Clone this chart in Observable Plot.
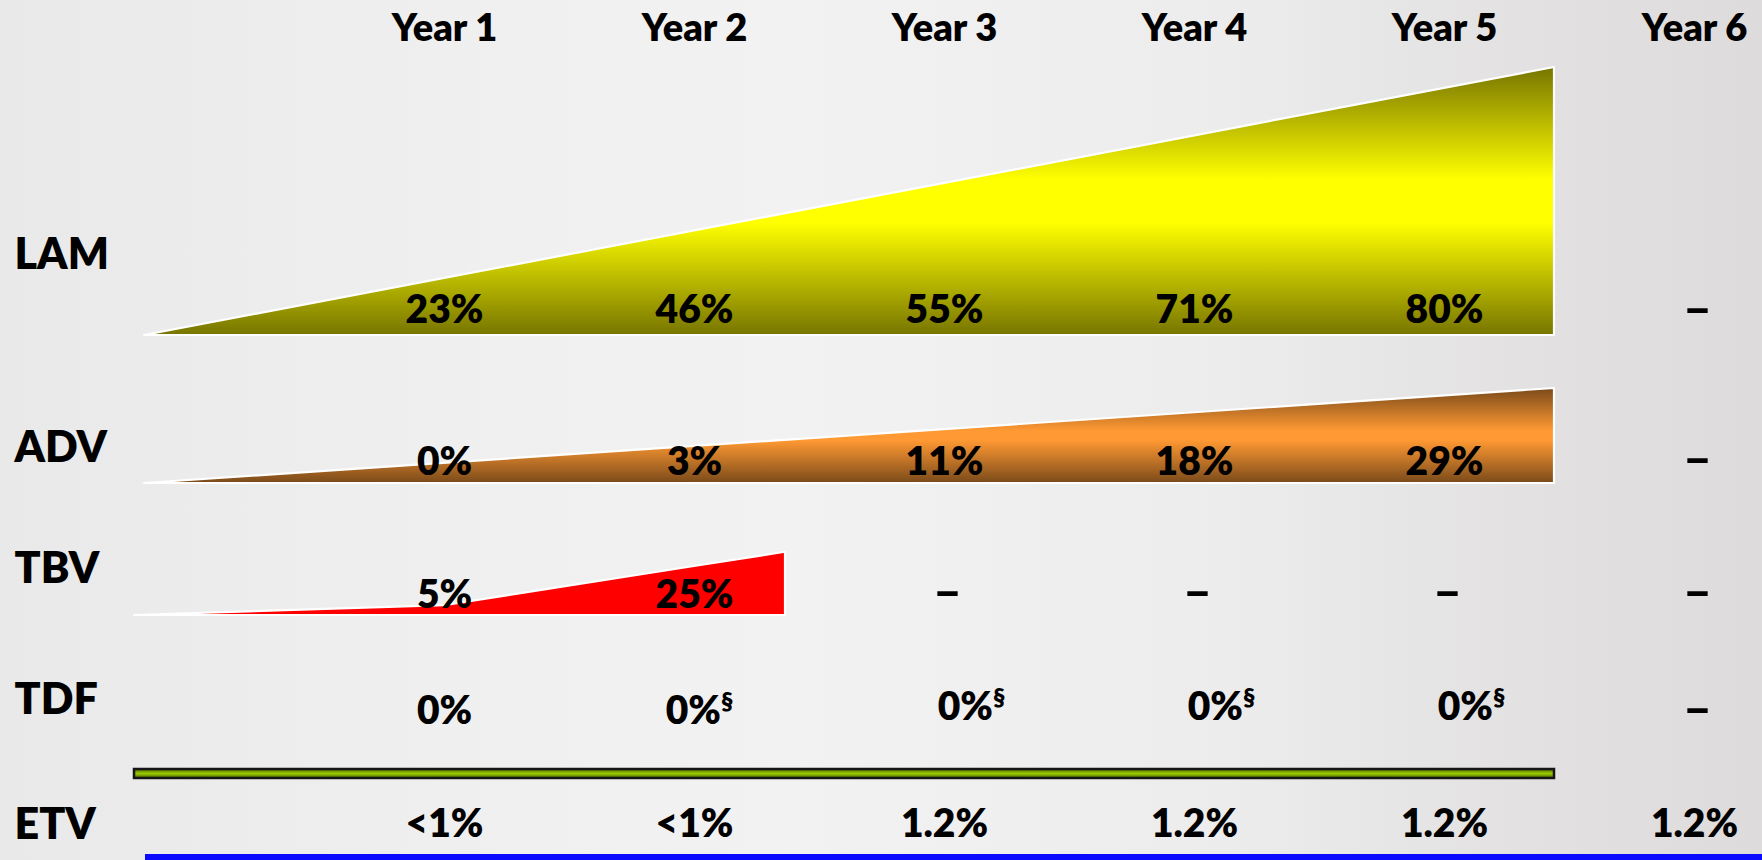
<!DOCTYPE html>
<html>
<head>
<meta charset="utf-8">
<script src="https://cdn.jsdelivr.net/npm/d3@7"></script>
<script src="https://cdn.jsdelivr.net/npm/@observablehq/plot@0.6"></script>
<style>
  html, body { margin: 0; padding: 0; background: #ebebeb; overflow: hidden; }
  #chart svg { display: block; }
</style>
</head>
<body>
<div id="chart"></div>
<script>
// ---------------- data ----------------
const years     = ["Year 1", "Year 2", "Year 3", "Year 4", "Year 5", "Year 6"];
const rowNames  = ["LAM", "ADV", "TBV", "TDF", "ETV"];
const lamValues = ["23%", "46%", "55%", "71%", "80%", "–"];
const advValues = ["0%", "3%", "11%", "18%", "29%", "–"];
const tbvValues = ["5%", "25%", "–", "–", "–", "–"];
const tdfValues = ["0%", "0%", "0%", "0%", "0%", "–"];
const tdfNotes  = ["", "§", "§", "§", "§", ""];
const etvValues = ["<1%", "<1%", "1.2%", "1.2%", "1.2%", "1.2%"];
const tbvPercent = [5, 25];          // TBV, Year 1 and Year 2 (drawn to scale)

// ---------------- layout (kept apart from the data) ----------------
const W = 1762, H = 860;
const colRange = [444, 1694];        // pixel of Year 1 .. Year 6
const labelU = -0.72;                // row-label column, in year units
const wedgeStart = -0.2, wedgeEnd = 5.44;
const tbvStart = -0.24, tbvEnd = 2.364;
const barStart = -0.24, barEnd = 5.44;
const blueStart = -0.196, blueEnd = 6.4;
const rowLabelY = [255, 447.5, 569, 699.5, 824.5];
const valueY    = [310.5, 462, 595.5, 711.5, 824];
const dashY     = [309, 459, 592, 709];
const lamBase = 335, lamTop = 67;
const advBase = 483, advTop = 388;
const tbvBase = 615, tbvPxPerPct = 1.96;
const barY = [769, 778];
const blueY = [854, 864];
const tdfDx = [0, 5, 27, 27, 27, 0];
const tdfDy = [0, 0, -4.5, -4.5, -4.5, 0];
const FONT = "Lato, 'Open Sans', 'DejaVu Sans', sans-serif";
const WEIGHT = 800;

// ---------------- derived tables ----------------
const DASH = "–";
const valueRows = [lamValues, advValues, tbvValues, tdfValues, etvValues];
const cells = [], dashes = [];
valueRows.forEach((vals, r) => {
  vals.forEach((v, i) => {
    if (v === DASH) dashes.push({u: i + 1, y: dashY[r], text: v});
    else if (r !== 3) cells.push({u: i + 1, y: valueY[r], text: v});
  });
});
const tdfCells = tdfValues.map((v, i) => ({u: i + 1, y: valueY[3] + tdfDy[i], text: v + tdfNotes[i], dx: tdfDx[i]}))
  .filter(d => d.text !== DASH);

const lamWedge = [{u: wedgeStart, y1: lamBase, y2: lamBase}, {u: wedgeEnd, y1: lamBase, y2: lamTop}];
const advWedge = [{u: wedgeStart, y1: advBase, y2: advBase}, {u: wedgeEnd, y1: advBase, y2: advTop}];
// TBV: 0 at its start, drawn to scale through Year 1 and Year 2, extended to its end edge
const tbvSlope = tbvPercent[1] - tbvPercent[0];
const tbvPoints = [
  {u: tbvStart, p: 0},
  {u: 1, p: tbvPercent[0]},
  {u: 2, p: tbvPercent[1]},
  {u: tbvEnd, p: tbvPercent[1] + tbvSlope * (tbvEnd - 2)}
].map(d => ({u: d.u, y1: tbvBase, y2: tbvBase - d.p * tbvPxPerPct}));

function defs() {
  const d = d3.create("svg:defs");
  const grad = (id, stops) => {
    const g = d.append("linearGradient").attr("id", id)
      .attr("x1", 0).attr("y1", 0).attr("x2", 0).attr("y2", 1);
    stops.forEach(([o, c]) => g.append("stop").attr("offset", o).attr("stop-color", c));
  };
  grad("lamGrad", [[0, "#777500"], [0.42, "#ffff00"], [0.58, "#ffff00"], [1, "#777500"]]);
  grad("advGrad", [[0, "#7a4a1a"], [0.45, "#ff9933"], [0.55, "#ff9933"], [1, "#7a4a1a"]]);
  grad("barGrad", [[0, "#4c6600"], [0.5, "#9acb00"], [1, "#4c6600"]]);
  return d.node();
}

const textStyle = {fontSize: 39, fontWeight: WEIGHT, fill: "#000", lineAnchor: "middle"};

const chart = Plot.plot({
  width: W, height: H,
  marginTop: 40, marginLeft: 0, marginRight: 0, marginBottom: 0,
  x: {type: "linear", domain: [1, 6], range: colRange},
  y: {type: "linear", domain: [0, H], range: [0, H], axis: null},
  style: {
    background: "linear-gradient(90deg, #e9e9e9 0%, #efefef 25%, #f2f2f2 45%, #ececec 70%, #e2e0e0 88%, #dddbdb 100%)",
    color: "#000",
    fontFamily: FONT,
    overflow: "visible"
  },
  marks: [
    defs,
    Plot.axisX([1, 2, 3, 4, 5, 6], {
      anchor: "top", tickSize: 0, tickPadding: 0, label: null,
      tickFormat: d => years[d - 1], fontSize: 38, fontWeight: WEIGHT
    }),
    Plot.areaY(lamWedge, {x: "u", y1: "y1", y2: "y2", fill: "url(#lamGrad)", stroke: "#fff", strokeWidth: 2.2}),
    Plot.areaY(advWedge, {x: "u", y1: "y1", y2: "y2", fill: "url(#advGrad)", stroke: "#fff", strokeWidth: 2.2}),
    Plot.areaY(tbvPoints, {x: "u", y1: "y1", y2: "y2", fill: "#ff0000", stroke: "#fff", strokeWidth: 2.2}),
    Plot.rect([{x1: barStart, x2: barEnd, y1: barY[0], y2: barY[1]}],
      {x1: "x1", x2: "x2", y1: "y1", y2: "y2", fill: "url(#barGrad)", stroke: "#151515", strokeWidth: 2.5}),
    Plot.rect([{x1: blueStart, x2: blueEnd, y1: blueY[0], y2: blueY[1]}],
      {x1: "x1", x2: "x2", y1: "y1", y2: "y2", fill: "#0a0aff"}),
    Plot.text(rowNames, {x: () => labelU, y: (d, i) => rowLabelY[i], text: d => d,
      textAnchor: "start", fontSize: 43, fontWeight: WEIGHT, fill: "#000", lineAnchor: "middle"}),
    Plot.text(cells, {x: "u", y: "y", text: "text", ...textStyle}),
    Plot.text(dashes, {x: "u", y: "y", text: "text", dx: 3, fontSize: 50, fontWeight: 900, fill: "#000", lineAnchor: "middle"}),
    Plot.text(tdfCells, {x: "u", y: "y", text: "text", ...textStyle, className: "tdfvals"})
  ]
});

// shift individual TDF cells and set the footnote mark as a superscript
d3.select(chart).selectAll(".tdfvals text").each(function(_, i) {
  const el = d3.select(this);
  const c = tdfCells[i];
  if (c && c.dx) el.attr("x", +el.attr("x") + c.dx);
  const t = this.textContent;
  if (t.endsWith("§")) {
    el.text(t.slice(0, -1));
    el.append("tspan").attr("font-size", 24).attr("dy", -14).text("§");
  }
});

document.getElementById("chart").appendChild(chart);
</script>
</body>
</html>
